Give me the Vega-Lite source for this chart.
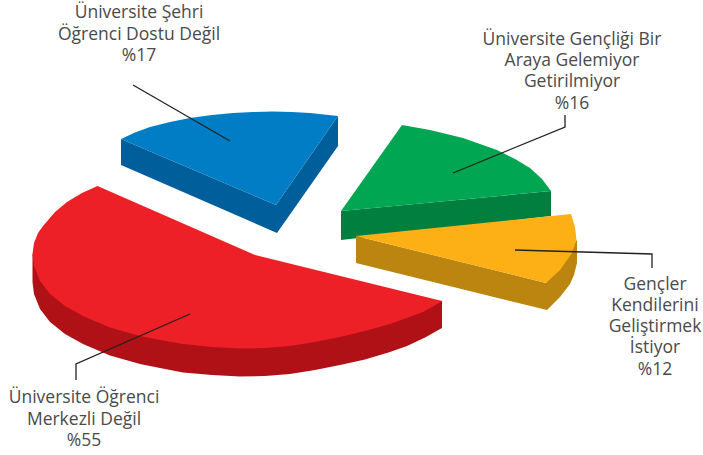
{
"$schema":"https://vega.github.io/schema/vega-lite/v6.json",
"width":703,"height":455,"padding":0,"autosize":{"type":"fit","contains":"padding"},
"background":"white","view":{"stroke":null},
"datasets":{
"shapes":[
{"piece":"blue side","o":1,"x":121,"y":139},{"piece":"blue side","o":2,"x":276,"y":205},{"piece":"blue side","o":3,"x":338,"y":116},{"piece":"blue side","o":4,"x":338,"y":146},{"piece":"blue side","o":5,"x":277,"y":233},{"piece":"blue side","o":6,"x":121,"y":165},
{"piece":"blue top","o":1,"x":121,"y":139},{"piece":"blue top","o":2,"x":135,"y":132.5},{"piece":"blue top","o":3,"x":150,"y":127},{"piece":"blue top","o":4,"x":170,"y":122},{"piece":"blue top","o":5,"x":190,"y":118},{"piece":"blue top","o":6,"x":212,"y":115},{"piece":"blue top","o":7,"x":233,"y":113},{"piece":"blue top","o":8,"x":253,"y":112},{"piece":"blue top","o":9,"x":273,"y":111.5},{"piece":"blue top","o":10,"x":292,"y":112},{"piece":"blue top","o":11,"x":310,"y":113},{"piece":"blue top","o":12,"x":338,"y":116},{"piece":"blue top","o":13,"x":276,"y":205},
{"piece":"green side","o":1,"x":341,"y":211},{"piece":"green side","o":2,"x":551,"y":191},{"piece":"green side","o":3,"x":551,"y":216},{"piece":"green side","o":4,"x":341,"y":240},
{"piece":"green top","o":1,"x":402,"y":125},{"piece":"green top","o":2,"x":430,"y":130},{"piece":"green top","o":3,"x":463,"y":138},{"piece":"green top","o":4,"x":497,"y":150},{"piece":"green top","o":5,"x":515,"y":159},{"piece":"green top","o":6,"x":530,"y":168},{"piece":"green top","o":7,"x":542,"y":179},{"piece":"green top","o":8,"x":551,"y":191},{"piece":"green top","o":9,"x":341,"y":211},
{"piece":"orange side","o":1,"x":356,"y":236},{"piece":"orange side","o":2,"x":546,"y":283},{"piece":"orange side","o":3,"x":577,"y":240},{"piece":"orange side","o":4,"x":577,"y":263},{"piece":"orange side","o":5,"x":574,"y":275},{"piece":"orange side","o":6,"x":570,"y":284},{"piece":"orange side","o":7,"x":560,"y":297},{"piece":"orange side","o":8,"x":547,"y":310},{"piece":"orange side","o":9,"x":356,"y":263},
{"piece":"orange top","o":1,"x":356,"y":236},{"piece":"orange top","o":2,"x":571,"y":214},{"piece":"orange top","o":3,"x":575,"y":227},{"piece":"orange top","o":4,"x":576.5,"y":240},{"piece":"orange top","o":5,"x":572,"y":253},{"piece":"orange top","o":6,"x":560,"y":270},{"piece":"orange top","o":7,"x":546,"y":283},
{"piece":"red side","o":1,"x":32.5,"y":254},{"piece":"red side","o":2,"x":442,"y":301},{"piece":"red side","o":3,"x":442,"y":328},{"piece":"red side","o":4,"x":425,"y":337.5},{"piece":"red side","o":5,"x":407,"y":346},{"piece":"red side","o":6,"x":390,"y":352},{"piece":"red side","o":7,"x":365,"y":359.5},{"piece":"red side","o":8,"x":340,"y":365},{"piece":"red side","o":9,"x":315,"y":370},{"piece":"red side","o":10,"x":290,"y":374},{"piece":"red side","o":11,"x":265,"y":376},{"piece":"red side","o":12,"x":240,"y":376.5},{"piece":"red side","o":13,"x":212,"y":375},{"piece":"red side","o":14,"x":183,"y":372.5},{"piece":"red side","o":15,"x":160,"y":368},{"piece":"red side","o":16,"x":140,"y":364},{"piece":"red side","o":17,"x":110,"y":355.5},{"piece":"red side","o":18,"x":83,"y":344},{"piece":"red side","o":19,"x":65,"y":334},{"piece":"red side","o":20,"x":50,"y":322},{"piece":"red side","o":21,"x":40,"y":309},{"piece":"red side","o":22,"x":34,"y":294},{"piece":"red side","o":23,"x":32.5,"y":282},
{"piece":"red top","o":1,"x":97.5,"y":186},{"piece":"red top","o":2,"x":255,"y":255},{"piece":"red top","o":3,"x":442,"y":301},{"piece":"red top","o":4,"x":432,"y":307},{"piece":"red top","o":5,"x":423,"y":312},{"piece":"red top","o":6,"x":407,"y":318},{"piece":"red top","o":7,"x":390,"y":324},{"piece":"red top","o":8,"x":365,"y":331},{"piece":"red top","o":9,"x":340,"y":337},{"piece":"red top","o":10,"x":315,"y":342},{"piece":"red top","o":11,"x":290,"y":346},{"piece":"red top","o":12,"x":265,"y":348},{"piece":"red top","o":13,"x":240,"y":348.5},{"piece":"red top","o":14,"x":212,"y":347},{"piece":"red top","o":15,"x":183,"y":344},{"piece":"red top","o":16,"x":160,"y":340},{"piece":"red top","o":17,"x":140,"y":336},{"piece":"red top","o":18,"x":110,"y":327.5},{"piece":"red top","o":19,"x":83,"y":316},{"piece":"red top","o":20,"x":65,"y":306},{"piece":"red top","o":21,"x":50,"y":294},{"piece":"red top","o":22,"x":40,"y":281},{"piece":"red top","o":23,"x":34,"y":266},{"piece":"red top","o":24,"x":32.5,"y":254},{"piece":"red top","o":25,"x":34,"y":243},{"piece":"red top","o":26,"x":38,"y":233},{"piece":"red top","o":27,"x":43,"y":226},{"piece":"red top","o":28,"x":55,"y":212},{"piece":"red top","o":29,"x":67,"y":202},{"piece":"red top","o":30,"x":82,"y":193}
],
"leaders":[
{"leader":"red","o":1,"x":190,"y":314},{"leader":"red","o":2,"x":76,"y":364},{"leader":"red","o":3,"x":76,"y":380},
{"leader":"blue","o":1,"x":133,"y":85},{"leader":"blue","o":2,"x":230,"y":141},
{"leader":"green","o":1,"x":453,"y":173},{"leader":"green","o":2,"x":565,"y":127},{"leader":"green","o":3,"x":565,"y":115},
{"leader":"orange","o":1,"x":515,"y":250},{"leader":"orange","o":2,"x":652,"y":254},{"leader":"orange","o":3,"x":652,"y":268}
],
"labels":[
{"t":"Üniversite Şehri","x":139,"y":18},{"t":"Öğrenci Dostu Değil","x":139,"y":40},{"t":"%17","x":139,"y":61},
{"t":"Üniversite Gençliği Bir","x":572,"y":45},{"t":"Araya Gelemiyor","x":572,"y":66},{"t":"Getirilmiyor","x":572,"y":87},{"t":"%16","x":572,"y":109},
{"t":"Gençler","x":655,"y":290},{"t":"Kendilerini","x":655,"y":311},{"t":"Geliştirmek","x":655,"y":332},{"t":"İstiyor","x":655,"y":353},{"t":"%12","x":655,"y":375},
{"t":"Üniversite Öğrenci","x":84,"y":403},{"t":"Merkezli Değil","x":84,"y":425},{"t":"%55","x":84,"y":446}
]},
"encoding":{
"x":{"type":"quantitative","field":"x","scale":{"domain":[0,703],"nice":false,"zero":false},"axis":null},
"y":{"type":"quantitative","field":"y","scale":{"domain":[455,0],"nice":false,"zero":false},"axis":null}
},
"layer":[
{"data":{"name":"shapes"},"mark":{"type":"line","strokeWidth":0,"interpolate":"linear"},
"encoding":{"detail":{"field":"piece"},"order":{"field":"o","type":"quantitative"},
"fill":{"field":"piece","type":"nominal","legend":null,"scale":{"domain":["blue side","blue top","green side","green top","orange side","orange top","red side","red top"],"range":["#005f9b","#007dc5","#007f3e","#00a651","#bb850f","#fdb016","#b01116","#ed1f27"]}}}},
{"data":{"name":"leaders"},"mark":{"type":"line","stroke":"#222222","strokeWidth":1.3},
"encoding":{"detail":{"field":"leader"},"order":{"field":"o","type":"quantitative"}}},
{"data":{"name":"labels"},"mark":{"type":"text","font":"Open Sans","fontSize":17.5,"fontWeight":400,"fill":"#4a4a4a","align":"center","baseline":"alphabetic"},
"encoding":{"text":{"field":"t"}}}
]
}
